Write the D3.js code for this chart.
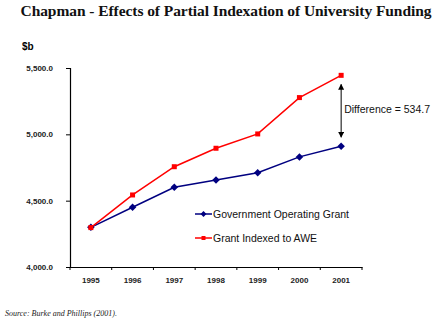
<!DOCTYPE html>
<html>
<head>
<meta charset="utf-8">
<style>
    body { margin: 0; background: #fff; }
    svg { display: block; }
    .tick text { font-family: "Liberation Sans", Arial, sans-serif; font-size: 8px; font-weight: bold; fill: #222; }
</style>
</head>
<body>
<svg width="446" height="324"></svg>
<script src="https://d3js.org/d3.v7.min.js"></script>
<script>

    var years = ["1995", "1996", "1997", "1998", "1999", "2000", "2001"];
    var govGrant = [4299.0, 4450.0, 4601.0, 4656.0, 4711.0, 4830.0, 4910.0];
    var aweGrant = [4297.0, 4543.0, 4756.0, 4895.0, 5003.0, 5277.0, 5444.7];
    var yTicks = [4000, 4500, 5000, 5500];
    var seriesNames = ["Government Operating Grant", "Grant Indexed to AWE"];

    var svg = d3.select("svg"),
        margin = {top: 68, right: 84, bottom: 57, left: 70},
        width = +svg.attr("width"),
        height = +svg.attr("height");

    var x = d3.scaleBand()
        .domain(years)
        .range([margin.left, width - margin.right]);

    var y = d3.scaleLinear()
        .domain([4000, 5500])
        .range([height - margin.bottom, margin.top]);

    // title
    svg.append("text")
        .attr("x", 226)
        .attr("y", 16)
        .attr("text-anchor", "middle")
        .attr("font-family", "Liberation Serif, Times New Roman, serif")
        .attr("font-weight", "bold")
        .attr("font-size", 15.5)
        .attr("textLength", 411)
        .attr("fill", "#111")
        .text("Chapman - Effects of Partial Indexation of University Funding");

    svg.append("text")
        .attr("x", 22)
        .attr("y", 50)
        .attr("font-family", "Liberation Sans, Arial, sans-serif")
        .attr("font-weight", "bold")
        .attr("font-size", 10)
        .text("$b");

    // axes
    var yAxis = svg.append("g")
        .attr("transform", "translate(" + margin.left + ",0)")
        .call(d3.axisLeft(y).tickValues(yTicks).tickSize(4).tickPadding(13)
            .tickFormat(d3.format(",.1f")));

    var xAxis = svg.append("g")
        .attr("transform", "translate(0," + (height - margin.bottom) + ")")
        .call(d3.axisBottom(x).tickSize(0).tickPadding(10));

    // category boundary ticks on the x axis
    xAxis.selectAll(".edge")
        .data(years.concat(["end"]))
        .enter().append("line")
        .attr("x1", function(d, i) { return margin.left + i * x.step(); })
        .attr("x2", function(d, i) { return margin.left + i * x.step(); })
        .attr("y1", 0)
        .attr("y2", 3)
        .attr("stroke", "#000");

    svg.selectAll(".domain").attr("stroke", "#000").attr("stroke-width", 1.2);

    var line = d3.line()
        .x(function(d, i) { return x(years[i]) + x.bandwidth() / 2; })
        .y(function(d) { return y(d); });

    svg.append("path")
        .datum(govGrant)
        .attr("fill", "none")
        .attr("stroke", "#000080")
        .attr("stroke-width", 1.5)
        .attr("d", line);

    svg.append("path")
        .datum(aweGrant)
        .attr("fill", "none")
        .attr("stroke", "#ff0000")
        .attr("stroke-width", 1.5)
        .attr("d", line);

    var diamond = d3.symbol().type(d3.symbolDiamond2).size(36);

    svg.append("g").selectAll("path")
        .data(govGrant)
        .enter().append("path")
        .attr("transform", function(d, i) {
            return "translate(" + (x(years[i]) + x.bandwidth() / 2) + "," + y(d) + ")";
        })
        .attr("d", diamond)
        .attr("fill", "#000080");

    svg.append("g").selectAll("rect")
        .data(aweGrant)
        .enter().append("rect")
        .attr("x", function(d, i) { return x(years[i]) + x.bandwidth() / 2 - 2.5; })
        .attr("y", function(d) { return y(d) - 2.5; })
        .attr("width", 5)
        .attr("height", 5)
        .attr("fill", "#ff0000");

    // difference arrow at the last year
    var last = years.length - 1,
        ax = x(years[last]) + x.bandwidth() / 2;

    svg.append("defs").append("marker")
        .attr("id", "arrow")
        .attr("viewBox", "0 0 10 10")
        .attr("refX", 9).attr("refY", 5)
        .attr("markerWidth", 6).attr("markerHeight", 6)
        .attr("orient", "auto-start-reverse")
        .append("path")
        .attr("d", "M0,0L10,5L0,10z")
        .attr("fill", "#000");

    svg.append("line")
        .attr("x1", ax).attr("x2", ax)
        .attr("y1", y(aweGrant[last]) + 9)
        .attr("y2", y(govGrant[last]) - 9)
        .attr("stroke", "#000")
        .attr("stroke-width", 1)
        .attr("marker-start", "url(#arrow)")
        .attr("marker-end", "url(#arrow)");

    svg.append("text")
        .attr("x", ax + 3)
        .attr("y", (y(aweGrant[last]) + y(govGrant[last])) / 2 + 2)
        .attr("font-family", "Liberation Sans, Arial, sans-serif")
        .attr("font-size", 10.5)
        .attr("fill", "#111")
        .text("Difference = " + d3.format(".1f")(aweGrant[last] - govGrant[last]));

    // legend
    var legend = svg.append("g").attr("transform", "translate(195,214)");
    var colors = ["#000080", "#ff0000"];

    seriesNames.forEach(function(name, i) {
        var g = legend.append("g").attr("transform", "translate(0," + (i * 24) + ")");
        g.append("line")
            .attr("x1", 0).attr("x2", 17)
            .attr("stroke", colors[i]).attr("stroke-width", 1.5);
        if (i === 0) {
            g.append("path").attr("transform", "translate(8.5,0)")
                .attr("d", d3.symbol().type(d3.symbolDiamond2).size(22)).attr("fill", colors[i]);
        } else {
            g.append("rect").attr("x", 6.5).attr("y", -2).attr("width", 4).attr("height", 4)
                .attr("fill", colors[i]);
        }
        g.append("text")
            .attr("x", 18)
            .attr("y", 4)
            .attr("font-family", "Liberation Sans, Arial, sans-serif")
            .attr("font-size", 10.5)
            .attr("fill", "#111")
            .text(name);
    });

    svg.append("text")
        .attr("x", 5)
        .attr("y", 316)
        .attr("font-family", "Liberation Serif, Times New Roman, serif")
        .attr("font-style", "italic")
        .attr("font-size", 8)
        .attr("fill", "#222")
        .text("Source: Burke and Phillips (2001).");

</script>
</body>
</html>
